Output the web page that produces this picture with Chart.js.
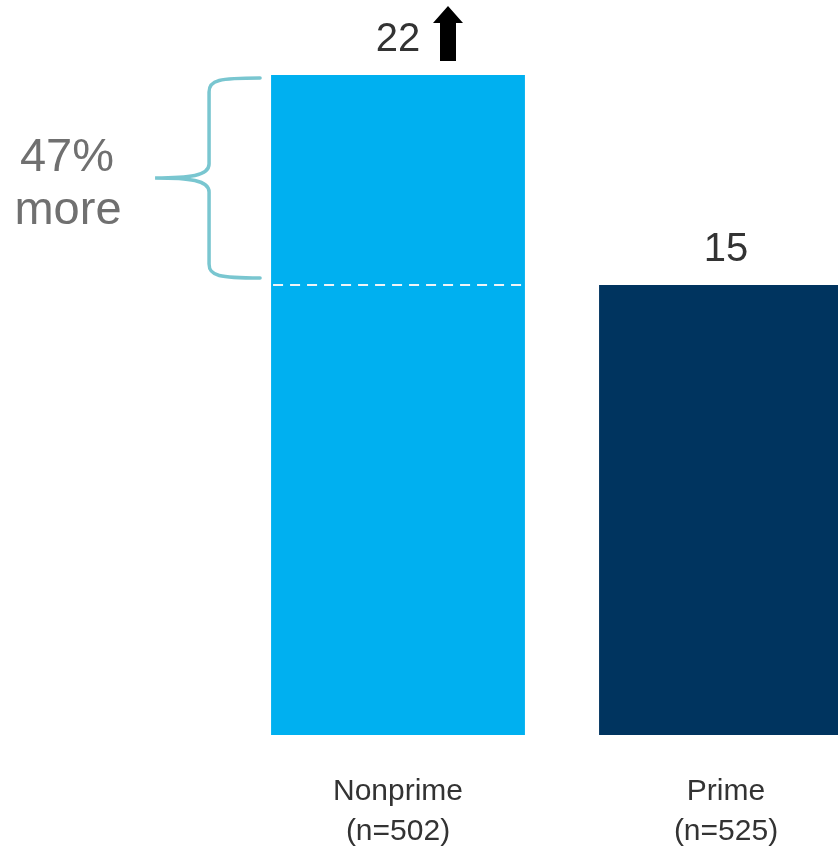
<!DOCTYPE html>
<html>
<head>
<meta charset="utf-8">
<script src="https://cdn.jsdelivr.net/npm/chart.js@4"></script>
<style>
    html, body { margin: 0; padding: 0; background: #fff; overflow: hidden; }
    #wrap { width: 900px; height: 849px; position: relative; }
</style>
</head>
<body>
<div id="wrap"><canvas id="myChart"></canvas></div>
<script>
// Chart data
const categories = [['Nonprime', '(n=502)'], ['Prime', '(n=525)']];
const values = [22, 15];
const barColors = ['#00B0F0', '#00345F'];
const diffLabel = ['47%', 'more'];

// Extra drawing: value labels, arrow, dashed reference line, brace
const annotate = {
    id: 'annotate',
    afterDatasetsDraw(chart) {
        const ctx = chart.ctx;
        const y = chart.scales.y;
        const meta = chart.getDatasetMeta(0);
        const bar0 = meta.data[0];
        const half = bar0.width / 2;

        ctx.save();

        // value labels
        ctx.font = '40px "Liberation Sans", Arial, sans-serif';
        ctx.fillStyle = '#333333';
        ctx.textAlign = 'center';
        ctx.textBaseline = 'alphabetic';
        meta.data.forEach((bar, i) => {
            ctx.fillText(String(values[i]), bar.x, y.getPixelForValue(values[i]) - 24);
        });

        // up arrow next to the first label
        const ax = bar0.x + 50;
        const aTop = y.getPixelForValue(values[0]) - 69;
        const aBot = y.getPixelForValue(values[0]) - 14;
        ctx.fillStyle = '#000000';
        ctx.beginPath();
        ctx.moveTo(ax, aTop);
        ctx.lineTo(ax + 15, aTop + 17);
        ctx.lineTo(ax + 8, aTop + 17);
        ctx.lineTo(ax + 8, aBot);
        ctx.lineTo(ax - 8, aBot);
        ctx.lineTo(ax - 8, aTop + 17);
        ctx.lineTo(ax - 15, aTop + 17);
        ctx.closePath();
        ctx.fill();

        // dashed line at the second value across the first bar
        const yRef = y.getPixelForValue(values[1]);
        ctx.strokeStyle = '#EEF4F7';
        ctx.lineWidth = 2;
        ctx.setLineDash([10, 7]);
        ctx.beginPath();
        ctx.moveTo(bar0.x - half + 2, yRef);
        ctx.lineTo(bar0.x + half, yRef);
        ctx.stroke();
        ctx.setLineDash([]);

        // brace
        const top = y.getPixelForValue(values[0]) + 3;
        const bot = yRef - 7;
        const mid = (top + bot) / 2;
        const armX = bar0.x - half - 11;
        const vx = armX - 51;
        const tipX = vx - 54;
        ctx.strokeStyle = '#79C6D0';
        ctx.lineWidth = 3.5;
        ctx.lineCap = 'round';
        ctx.beginPath();
        ctx.moveTo(armX, top);
        ctx.bezierCurveTo(vx + 10, top, vx, top + 2, vx, top + 14);
        ctx.lineTo(vx, mid - 14);
        ctx.bezierCurveTo(vx, mid - 2, vx - 20, mid, tipX, mid);
        ctx.bezierCurveTo(vx - 20, mid, vx, mid + 2, vx, mid + 14);
        ctx.lineTo(vx, bot - 14);
        ctx.bezierCurveTo(vx, bot - 2, vx + 10, bot, armX, bot);
        ctx.stroke();

        // difference text
        ctx.font = '47px "Liberation Sans", Arial, sans-serif';
        ctx.fillStyle = '#707070';
        ctx.textAlign = 'center';
        ctx.fillText(diffLabel[0], 67, mid - 7);
        ctx.fillText(diffLabel[1], 68, mid + 46);

        ctx.restore();
    }
};

const ctx = document.getElementById('myChart').getContext('2d');
const myChart = new Chart(ctx, {
    type: 'bar',
    data: {
        labels: categories,
        datasets: [
            {
                data: values,
                backgroundColor: barColors,
                borderWidth: 0,
                barPercentage: 0.774,
                categoryPercentage: 1.0
            }
        ]
    },
    options: {
        responsive: true,
        maintainAspectRatio: false,
        animation: false,
        layout: {
            padding: { left: 234, right: 10, top: 0, bottom: 0 }
        },
        scales: {
            y: {
                display: false,
                min: 0,
                max: 24.5
            },
            x: {
                grid: { display: false, drawTicks: false },
                border: { display: false },
                afterFit: (scale) => { scale.height = 114; },
                ticks: {
                    color: '#333333',
                    padding: 37,
                    font: {
                        size: 30,
                        family: '"Liberation Sans", Arial, sans-serif',
                        lineHeight: 1.33
                    }
                }
            }
        },
        plugins: {
            legend: { display: false },
            tooltip: { enabled: false }
        }
    },
    plugins: [annotate]
});
</script>
</body>
</html>
